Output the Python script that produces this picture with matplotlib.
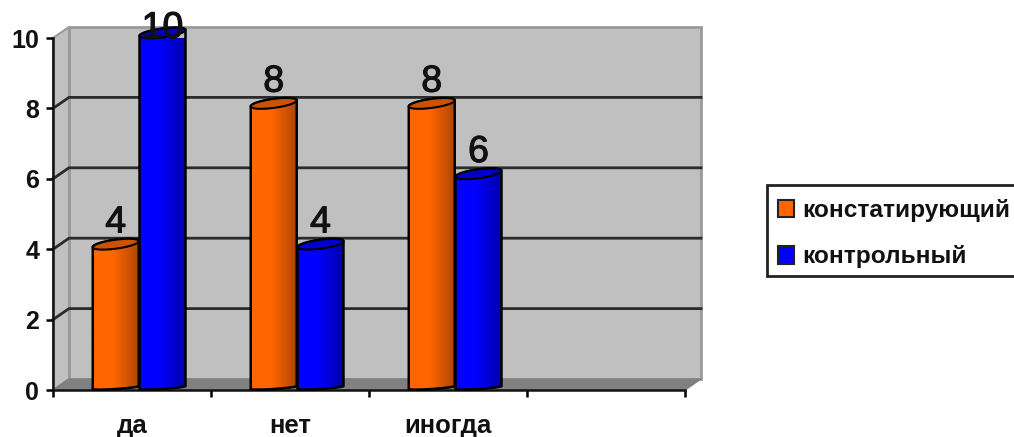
import numpy as np
import matplotlib
matplotlib.use("Agg")
import matplotlib.pyplot as plt
import matplotlib.patheffects as pe
from matplotlib.patches import Patch, Polygon, Rectangle
from matplotlib.colors import to_rgb

categories = ["да", "нет", "иногда"]
konstat = [4, 8, 8]
kontrol = [10, 4, 6]
series_names = ["констатирующий", "контрольный"]
y_ticks = [0, 2, 4, 6, 8, 10]
n_slots = 4

W, H = 1014, 437
X0, X1 = 53, 685
Y0, Y1 = 390, 38

# one pixel in data units
PX = n_slots / (X1 - X0)
PY = 10 / (Y0 - Y1)
DX = 16 * PX  # depth of the fake 3d box
DY = 11 * PY

WALL = "#c0c0c0"
WALL_EDGE = "#9a9a9a"
FLOOR = "#808080"
GRID = "#2b2b2b"
ORANGE = "#ff6600"
BLUE = "#0000ff"
INK = "#111111"

plt.rcParams["font.family"] = ["Liberation Sans", "DejaVu Sans"]

fig = plt.figure(figsize=(W / 100, H / 100), dpi=100)
ax = fig.add_axes([X0 / W, 1 - Y0 / H, (X1 - X0) / W, (Y0 - Y1) / H])
ax.patch.set_visible(False)


def shape(pts, **kw):
    p = Polygon(pts, closed=True, clip_on=False, **kw)
    ax.add_patch(p)
    return p


# walls and floor
shape([(DX, DY), (n_slots + DX, DY), (n_slots + DX, 10 + DY), (DX, 10 + DY)],
      fc=WALL, ec=WALL_EDGE, lw=2, zorder=0.5)
shape([(0, 0), (DX, DY), (DX, 10 + DY), (0, 10)], fc=WALL, ec=WALL_EDGE, lw=1.5, zorder=0.6)
shape([(0, 0), (n_slots, 0), (n_slots + DX, DY), (DX, DY)], fc=FLOOR, ec=FLOOR, lw=1, zorder=0.7)

for v in y_ticks[1:-1]:
    ax.plot([0, DX, n_slots + DX], [v, v + DY, v + DY], color=GRID, lw=2,
            clip_on=False, solid_joinstyle="miter", zorder=1)


def cylinder(cx, value, color):
    r = 23 * PX
    t = np.linspace(0, 2 * np.pi, 60)
    ex = r * np.cos(t)
    # tilted ellipse, right side sits higher than the left
    ey = (4.5 * np.sin(t) + 3 * np.cos(t)) * PY
    # flatter curve at the foot than at the top
    foot = (1.5 * np.sin(t) + 1.5 * np.cos(t)) * PY
    base, top = 2.5 * PY, value + 5 * PY
    upper = t <= np.pi
    lower = t >= np.pi
    body = np.vstack([
        np.column_stack([cx + ex[lower], base + foot[lower]]),
        np.column_stack([cx + ex[upper], top + ey[upper]]),
    ])
    outline = shape(body, fc="none", ec="black", lw=1.8, zorder=3.2)

    # horizontal shading across the tube
    rgb = np.array(to_rgb(color))
    shade = np.interp(np.linspace(0, 1, 128), [0, 0.45, 1], [1, 1, 0.68])
    img = np.outer(shade, rgb).reshape(1, 128, 3)
    im = ax.imshow(img, extent=(cx - r, cx + r, 0, top + 6 * PY), aspect="auto", zorder=3)
    im.set_clip_path(outline)

    shape(np.column_stack([cx + ex, top + ey]), fc=rgb * 0.8, ec="black", lw=1.5, zorder=3.4)


for i in range(len(categories)):
    cx = i + 0.545
    cylinder(cx - 0.148, konstat[i], ORANGE)
    cylinder(cx + 0.148, kontrol[i], BLUE)
    for x, v in ((cx - 0.148, konstat[i]), (cx + 0.148, kontrol[i])):
        # labels get pushed down near the top of the box
        t = ax.text(x, min(v + 0.76, 10.28), str(v), ha="center", va="center",
                    fontsize=27, color=INK, zorder=5)
        t.set_path_effects([pe.withStroke(linewidth=0.8, foreground=INK)])

ax.set_xlim(0, n_slots)
ax.set_ylim(0, 10)
for side in ("top", "right"):
    ax.spines[side].set_visible(False)
for side in ("left", "bottom"):
    ax.spines[side].set_linewidth(1.8)
    ax.spines[side].set_color(INK)

ax.set_yticks(y_ticks)
ax.set_yticklabels([str(v) for v in y_ticks], fontsize=18, fontweight="bold", color=INK)
ax.set_xticks(range(n_slots + 1))
ax.set_xticklabels([])
ax.set_xticks([i + 0.5 for i in range(len(categories))], minor=True)
ax.set_xticklabels(categories, minor=True, fontsize=18.5, fontweight="bold", color=INK)
ax.tick_params(axis="y", length=5, width=1.8, pad=5)
ax.tick_params(axis="x", which="major", length=5, width=1.8)
ax.tick_params(axis="x", which="minor", length=0, pad=17)

# legend box runs off the right edge of the figure
fig.add_artist(Rectangle((767 / W, 1 - 276 / H), 260 / W, 91 / H, transform=fig.transFigure,
                         fc="white", ec="#222222", lw=2))
handles = [Patch(fc=ORANGE, ec="#222222", lw=1.5), Patch(fc=BLUE, ec="#222222", lw=1.5)]
leg = fig.legend(handles, series_names, loc="upper left",
                 bbox_to_anchor=(778 / W, 1 - 199 / H), bbox_transform=fig.transFigure,
                 prop={"size": 17.6, "weight": "bold"}, frameon=False,
                 borderaxespad=0, borderpad=0,
                 handlelength=0.65, handleheight=0.75, handletextpad=0.35, labelspacing=0.95)
leg.set_zorder(5)
for txt in leg.get_texts():
    txt.set_color(INK)

fig.savefig("out.png", dpi=100)
